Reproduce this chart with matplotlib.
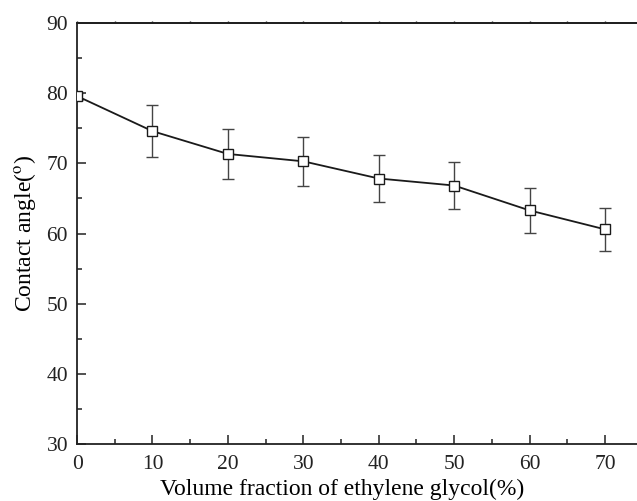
import matplotlib
matplotlib.use("Agg")
import matplotlib.pyplot as plt
from matplotlib.ticker import MultipleLocator

# volume fraction of ethylene glycol (%) vs contact angle (deg)
fraction = [0, 10, 20, 30, 40, 50, 60, 70]
angle = [79.6, 74.6, 71.35, 70.3, 67.85, 66.85, 63.3, 60.6]
err = [0.5, 3.7, 3.6, 3.5, 3.4, 3.35, 3.2, 3.05]

plt.rcParams['font.family'] = ['Liberation Serif', 'DejaVu Serif']
plt.rcParams['mathtext.fontset'] = 'stix'

fig = plt.figure(figsize=(6.37, 5.01), dpi=100)
ax = fig.add_axes([0.121, 0.1138, 0.888, 0.840])

ax.errorbar(fraction, angle, yerr=err, color='#1a1a1a', ecolor='#444444',
            elinewidth=1.0, capsize=4, capthick=1.0, lw=1.3,
            marker='s', markersize=6.5, markerfacecolor='white',
            markeredgecolor='#1a1a1a', markeredgewidth=1.0, zorder=3)

ax.set_xlim(0, 75)
ax.set_ylim(30, 90)
ax.xaxis.set_major_locator(MultipleLocator(10))
ax.xaxis.set_minor_locator(MultipleLocator(5))
ax.yaxis.set_major_locator(MultipleLocator(10))
ax.yaxis.set_minor_locator(MultipleLocator(5))

ax.spines['right'].set_visible(False)
for s in ['left', 'bottom', 'top']:
    ax.spines[s].set_linewidth(1.3)
    ax.spines[s].set_color('#222222')

ax.tick_params(axis='both', which='major', direction='in', length=6.5, width=1.1,
               labelsize=15.5, colors='#222222')
ax.tick_params(axis='both', which='minor', direction='in', length=3.3, width=1.1,
               colors='#222222')
ax.tick_params(axis='x', which='major', pad=8)
ax.tick_params(axis='y', which='major', pad=6.5)
ax.tick_params(axis='x', which='both', top=False)
ax.tick_params(axis='y', which='both', right=False)

# tiny marks on the top frame
top = ax.secondary_xaxis('top')
top.xaxis.set_major_locator(MultipleLocator(5))
top.tick_params(direction='out', length=1.2, width=1.0, labeltop=False, colors='#222222')
top.spines['top'].set_linewidth(1.3)

ax.set_xlabel('Volume fraction of ethylene glycol(%)', fontsize=17)
ax.xaxis.set_label_coords(0.469, -0.083, transform=ax.transAxes)
ax.xaxis.label.set_va('top')
ax.set_ylabel('Contact angle($^{\\mathrm{o}}$)', fontsize=17, labelpad=6)

fig.savefig('out.png', dpi=100)
